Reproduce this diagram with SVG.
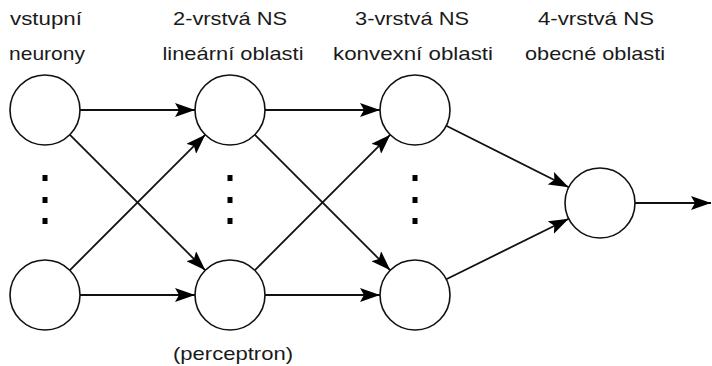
<svg xmlns="http://www.w3.org/2000/svg" width="712" height="366" viewBox="0 0 712 366">
  <style>
    .node { fill: #ffffff; stroke: #111111; stroke-width: 1.6; }
    .edge { fill: none; stroke: #111111; stroke-width: 1.8; marker-end: url(#arrow); }
    .label { font-family: "Liberation Sans", Arial, sans-serif; font-size: 19px; fill: #1a1a1a; text-anchor: middle; }
    .dot { fill: #000000; }
  </style>
  <defs>
    <marker id="arrow" viewBox="0 0 20 14" refX="20" refY="7" markerWidth="20" markerHeight="14" markerUnits="userSpaceOnUse" orient="auto">
      <path d="M0,0 L20,7 L0,14 L4,7 z" fill="#000000"/>
    </marker>
  </defs>

  <rect width="712" height="366" fill="#ffffff"/>

  <!-- column headings -->
  <g id="labels">
    <text class="label" x="46" y="25" textLength="72" lengthAdjust="spacingAndGlyphs">vstupní</text>
    <text class="label" x="47" y="59.5" textLength="76" lengthAdjust="spacingAndGlyphs">neurony</text>
    <text class="label" x="230" y="25" textLength="114" lengthAdjust="spacingAndGlyphs">2-vrstvá NS</text>
    <text class="label" x="233" y="59.5" textLength="141" lengthAdjust="spacingAndGlyphs">lineární oblasti</text>
    <text class="label" x="412" y="25" textLength="114" lengthAdjust="spacingAndGlyphs">3-vrstvá NS</text>
    <text class="label" x="413" y="59.5" textLength="160" lengthAdjust="spacingAndGlyphs">konvexní oblasti</text>
    <text class="label" x="596" y="25" textLength="116" lengthAdjust="spacingAndGlyphs">4-vrstvá NS</text>
    <text class="label" x="595" y="59.5" textLength="140" lengthAdjust="spacingAndGlyphs">obecné oblasti</text>
    <text class="label" x="233" y="360" textLength="120" lengthAdjust="spacingAndGlyphs">(perceptron)</text>
  </g>

  <!-- connectors -->
  <g id="connectors">
    <!-- input layer to layer 2 -->
    <line class="edge" x1="80" y1="110" x2="195" y2="110"/>
    <line class="edge" x1="80" y1="295" x2="195" y2="295"/>
    <line class="edge" x1="69.7" y1="134.7" x2="205.3" y2="270.3"/>
    <line class="edge" x1="69.7" y1="270.3" x2="205.3" y2="134.7"/>
    <!-- layer 2 to layer 3 -->
    <line class="edge" x1="265" y1="110" x2="380" y2="110"/>
    <line class="edge" x1="265" y1="295" x2="380" y2="295"/>
    <line class="edge" x1="254.7" y1="134.7" x2="390.3" y2="270.3"/>
    <line class="edge" x1="254.7" y1="270.3" x2="390.3" y2="134.7"/>
    <!-- layer 3 to output -->
    <line class="edge" x1="446.3" y1="125.7" x2="568.7" y2="187.3"/>
    <line class="edge" x1="446.3" y1="279.3" x2="568.7" y2="218.7"/>
    <!-- output -->
    <line class="edge" x1="635" y1="203" x2="711" y2="203"/>
  </g>

  <!-- neurons -->
  <g id="in-top"><circle class="node" cx="45" cy="110" r="35"/></g>
  <g id="in-bottom"><circle class="node" cx="45" cy="295" r="35"/></g>
  <g id="l2-top"><circle class="node" cx="230" cy="110" r="35"/></g>
  <g id="l2-bottom"><circle class="node" cx="230" cy="295" r="35"/></g>
  <g id="l3-top"><circle class="node" cx="415" cy="110" r="35"/></g>
  <g id="l3-bottom"><circle class="node" cx="415" cy="295" r="35"/></g>
  <g id="out"><circle class="node" cx="600" cy="203" r="35"/></g>

  <!-- ellipsis dots between neurons -->
  <g id="dots">
    <rect class="dot" x="42.5" y="175" width="5" height="6"/>
    <rect class="dot" x="42.5" y="197" width="5" height="6"/>
    <rect class="dot" x="42.5" y="218" width="5" height="6"/>
    <rect class="dot" x="227.5" y="175" width="5" height="6"/>
    <rect class="dot" x="227.5" y="197" width="5" height="6"/>
    <rect class="dot" x="227.5" y="218" width="5" height="6"/>
    <rect class="dot" x="412.5" y="175" width="5" height="6"/>
    <rect class="dot" x="412.5" y="197" width="5" height="6"/>
    <rect class="dot" x="412.5" y="218" width="5" height="6"/>
  </g>
</svg>
